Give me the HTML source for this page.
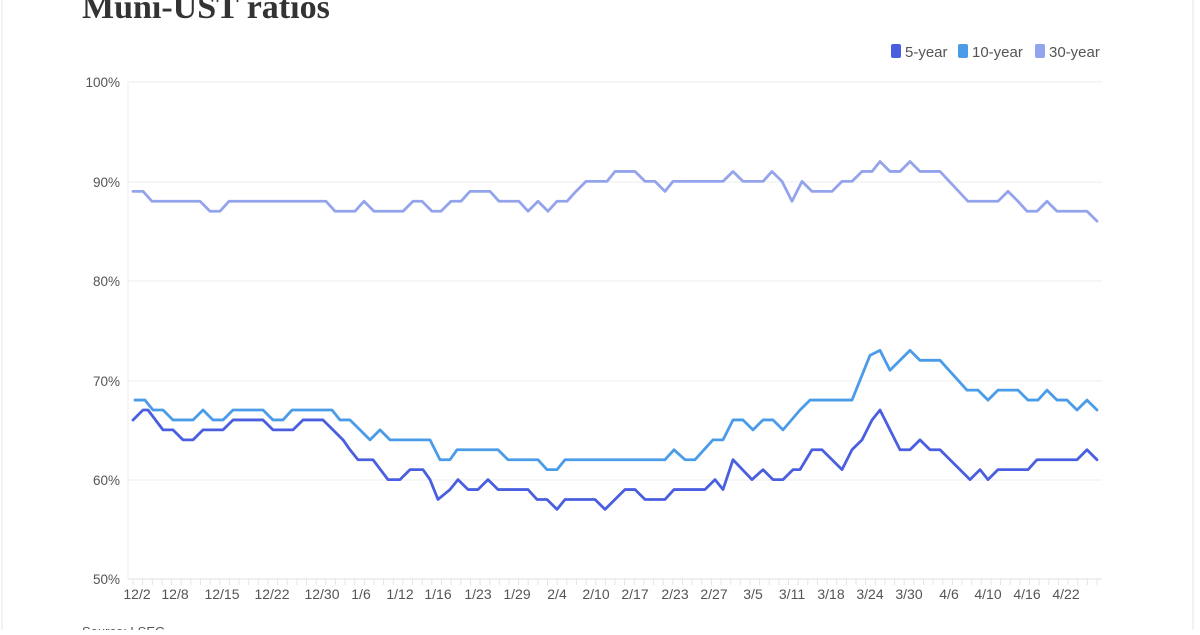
<!DOCTYPE html>
<html><head><meta charset="utf-8"><style>
html,body{margin:0;padding:0;background:#fff;}
body{width:1200px;height:630px;overflow:hidden;position:relative;font-family:"Liberation Sans",sans-serif;}
</style></head><body>
<svg width="1200" height="630" viewBox="0 0 1200 630" xmlns="http://www.w3.org/2000/svg">
<line x1="2" y1="0" x2="2" y2="630" stroke="#e6e6e6"/>
<line x1="1193" y1="0" x2="1193" y2="630" stroke="#e6e6e6"/>
<text x="82" y="18" font-family="Liberation Serif, serif" font-weight="bold" font-size="34" fill="#333">Muni-UST ratios</text>
<g font-size="15" fill="#555">
<rect x="891" y="44" width="10" height="14" rx="2" fill="#4a5fe0"/><text x="905" y="57">5-year</text>
<rect x="958" y="44" width="10" height="14" rx="2" fill="#4a9be8"/><text x="972" y="57">10-year</text>
<rect x="1035" y="44" width="10" height="14" rx="2" fill="#94a4ec"/><text x="1049" y="57">30-year</text>
</g>
<g stroke="#eeeeee" stroke-width="1">
<line x1="128" y1="82" x2="1102" y2="82"/>
<line x1="128" y1="182" x2="1102" y2="182"/>
<line x1="128" y1="281" x2="1102" y2="281"/>
<line x1="128" y1="381" x2="1102" y2="381"/>
<line x1="128" y1="480" x2="1102" y2="480"/>
<line x1="128" y1="82" x2="128" y2="579"/>
</g>
<line x1="128" y1="579" x2="1102" y2="579" stroke="#e0e0e0"/>
<path stroke="#e4e4e4" stroke-width="1" d="M133 579v6M142.6 579v6M152.3 579v6M161.9 579v6M171.6 579v6M181.2 579v6M190.8 579v6M200.5 579v6M210.1 579v6M219.8 579v6M229.4 579v6M239 579v6M248.7 579v6M258.3 579v6M268 579v6M277.6 579v6M287.2 579v6M296.9 579v6M306.5 579v6M316.2 579v6M325.8 579v6M335.4 579v6M345.1 579v6M354.7 579v6M364.4 579v6M374 579v6M383.6 579v6M393.3 579v6M402.9 579v6M412.6 579v6M422.2 579v6M431.8 579v6M441.5 579v6M451.1 579v6M460.8 579v6M470.4 579v6M480 579v6M489.7 579v6M499.3 579v6M509 579v6M518.6 579v6M528.2 579v6M537.9 579v6M547.5 579v6M557.2 579v6M566.8 579v6M576.4 579v6M586.1 579v6M595.7 579v6M605.4 579v6M615 579v6M624.6 579v6M634.3 579v6M643.9 579v6M653.6 579v6M663.2 579v6M672.8 579v6M682.5 579v6M692.1 579v6M701.8 579v6M711.4 579v6M721 579v6M730.7 579v6M740.3 579v6M750 579v6M759.6 579v6M769.2 579v6M778.9 579v6M788.5 579v6M798.2 579v6M807.8 579v6M817.4 579v6M827.1 579v6M836.7 579v6M846.4 579v6M856 579v6M865.6 579v6M875.3 579v6M884.9 579v6M894.6 579v6M904.2 579v6M913.8 579v6M923.5 579v6M933.1 579v6M942.8 579v6M952.4 579v6M962 579v6M971.7 579v6M981.3 579v6M991 579v6M1000.6 579v6M1010.2 579v6M1019.9 579v6M1029.5 579v6M1039.2 579v6M1048.8 579v6M1058.4 579v6M1068.1 579v6M1077.7 579v6M1087.4 579v6M1097 579v6"/>
<g font-size="13.5" fill="#555" text-anchor="end">
<text x="120" y="87">100%</text><text x="120" y="187">90%</text><text x="120" y="286">80%</text><text x="120" y="386">70%</text><text x="120" y="485">60%</text><text x="120" y="584">50%</text>
</g>
<g font-size="14" fill="#555" text-anchor="middle">
<text x="137" y="599">12/2</text><text x="175" y="599">12/8</text><text x="222" y="599">12/15</text><text x="272" y="599">12/22</text><text x="322" y="599">12/30</text><text x="361" y="599">1/6</text><text x="400" y="599">1/12</text><text x="438" y="599">1/16</text><text x="478" y="599">1/23</text><text x="517" y="599">1/29</text><text x="557" y="599">2/4</text><text x="596" y="599">2/10</text><text x="635" y="599">2/17</text><text x="675" y="599">2/23</text><text x="714" y="599">2/27</text><text x="753" y="599">3/5</text><text x="792" y="599">3/11</text><text x="831" y="599">3/18</text><text x="870" y="599">3/24</text><text x="909" y="599">3/30</text><text x="949" y="599">4/6</text><text x="988" y="599">4/10</text><text x="1027" y="599">4/16</text><text x="1066" y="599">4/22</text>
</g>
<text x="82" y="636" font-size="13" fill="#555">Source: LSEG</text>
<g transform="matrix(1 0 0 -9.94 0 1076)" fill="none" stroke-width="2.8" stroke-linejoin="round" stroke-linecap="round">
<polyline vector-effect="non-scaling-stroke" stroke="#94a4ec" points="133,89 143,89 152,88 200,88 210,87 220,87 229,88 326,88 335,87 355,87 364,88 374,87 403,87 413,88 422,88 432,87 441,87 451,88 461,88 470,89 490,89 499,88 519,88 528,87 538,88 548,87 557,88 567,88 576,89 586,90 600,90 607,90 615,91 635,91 645,90 655,90 665,89 673,90 723,90 733,91 743,90 763,90 772,91 782,90 792,88 802,90 812,89 832,89 842,90 852,90 862,91 872,91 880,92 890,91 900,91 910,92 920,91 940,91 968,88 998,88 1008,89 1018,88 1027,87 1037,87 1047,88 1057,87 1087,87 1097,86"/>
<polyline vector-effect="non-scaling-stroke" stroke="#4a9be8" points="135,68 145,68 153,67 163,67 173,66 193,66 203,67 213,66 223,66 233,67 263,67 273,66 283,66 292,67 332,67 340,66 350,66 360,65 370,64 380,65 390,64 430,64 440,62 450,62 457,63 498,63 508,62 538,62 547,61 557,61 565,62 665,62 674,63 685,62 695,62 713,64 723,64 733,66 743,66 753,65 763,66 773,66 783,65 800,67 810,68 852,68 860,70 870,72.5 880,73 890,71 910,73 920,72 940,72 967,69 978,69 988,68 998,69 1018,69 1028,68 1038,68 1047,69 1057,68 1067,68 1077,67 1087,68 1097,67"/>
<polyline vector-effect="non-scaling-stroke" stroke="#4a5fe0" points="133,66 143,67 148,67 163,65 173,65 183,64 193,64 203,65 223,65 233,66 263,66 273,65 293,65 303,66 323,66 333,65 343,64 350,63 358,62 373,62 388,60 400,60 410,61 423,61 430,60 438,58 450,59 458,60 468,59 478,59 488,60 498,59 528,59 537,58 547,58 557,57 565,58 595,58 605,57 625,59 635,59 645,58 665,58 674,59 705,59 715,60 723,59 733,62 752,60 763,61 773,60 783,60 793,61 800,61 812,63 822,63 842,61 852,63 862,64 872,66 880,67 900,63 910,63 920,64 930,63 940,63 970,60 980,61 988,60 998,61 1028,61 1037,62 1077,62 1087,63 1097,62"/>
</g>
</svg>
</body></html>
